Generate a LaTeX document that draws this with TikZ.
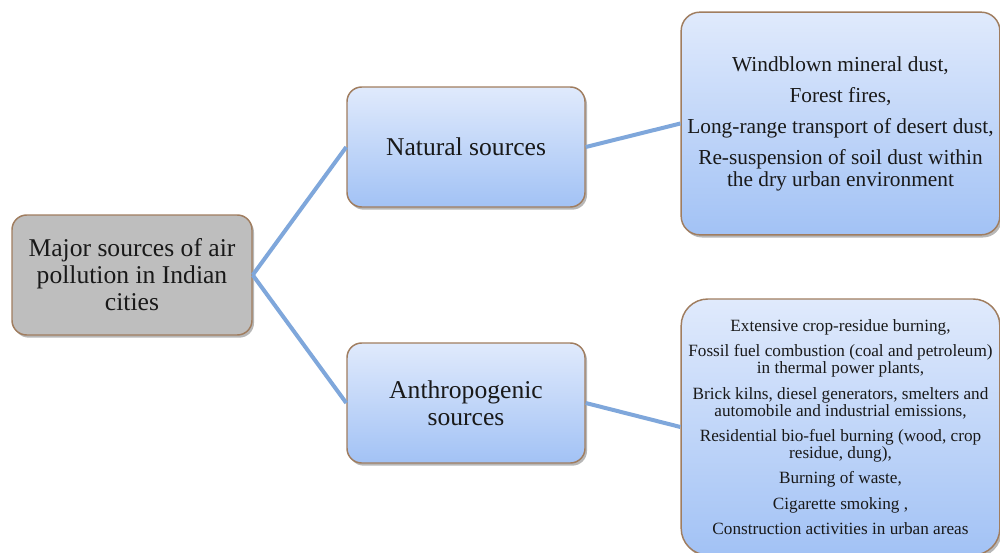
\documentclass[tikz,border=0pt]{standalone}
\usepackage{fontspec}
\setmainfont{Liberation Serif}
\usepackage{tikz}
\usetikzlibrary{shadows}

\definecolor{boxedge}{RGB}{160,125,95}
\definecolor{boxtop}{RGB}{224,234,252}
\definecolor{boxbot}{RGB}{162,194,245}
\definecolor{rootgray}{RGB}{190,190,190}
\definecolor{linkblue}{RGB}{127,167,219}
\definecolor{textdark}{RGB}{25,25,25}

\begin{document}
\begin{tikzpicture}[
  x=0.75pt, y=-0.75pt,
  srcbox/.style={draw=boxedge, line width=1.1pt, rounded corners=11pt, align=center, inner sep=2pt, text=textdark,
    top color=boxtop, bottom color=boxbot,
    drop shadow={shadow xshift=1.5pt, shadow yshift=-2pt, opacity=0.4, fill=black!70}},
  rootbox/.style={srcbox, top color=rootgray, bottom color=rootgray},
  link/.style={draw=linkblue, line width=3pt}
]
\useasboundingbox (0,0) rectangle (1000,553);

\node[rootbox, minimum width=180pt, minimum height=90pt, font=\fontsize{19.2}{20.2}\selectfont] (root) at (132,275)
  {Major sources of air\\pollution in Indian\\cities};
\node[srcbox, minimum width=178.5pt, minimum height=90pt, font=\fontsize{19.2}{20.2}\selectfont] (natural) at (466,147)
  {Natural sources};
\node[srcbox, minimum width=178.5pt, minimum height=90pt, font=\fontsize{19.2}{20.2}\selectfont] (anthro) at (466,403)
  {Anthropogenic\\sources};

% lists of sources
\node[srcbox, rounded corners=14pt, minimum width=239pt, minimum height=167pt, font=\fontsize{16}{16.5}\selectfont] (natlist) at (840.5,123.5)
  {Windblown mineral dust,\\[6.8pt]
   Forest fires,\\[6.8pt]
   Long-range transport of desert dust,\\[6.8pt]
   Re-suspension of soil dust within\\
   the dry urban environment};
\node[srcbox, rounded corners=20pt, minimum width=239pt, minimum height=192pt, font=\fontsize{12.9}{12.9}\selectfont] (anthlist) at (840.5,427)
  {Extensive crop-residue burning,\\[6pt]
   Fossil fuel combustion (coal and petroleum)\\
   in thermal power plants,\\[6pt]
   Brick kilns, diesel generators, smelters and\\
   automobile and industrial emissions,\\[6pt]
   Residential bio-fuel burning (wood, crop\\
   residue, dung),\\[6pt]
   Burning of waste,\\[6pt]
   Cigarette smoking ,\\[6pt]
   Construction activities in urban areas};

\draw[link] (root.east) -- (natural.west);
\draw[link] (root.east) -- (anthro.west);
\draw[link] (natural.east) -- (natlist.west);
\draw[link] (anthro.east) -- (anthlist.west);
\end{tikzpicture}
\end{document}
